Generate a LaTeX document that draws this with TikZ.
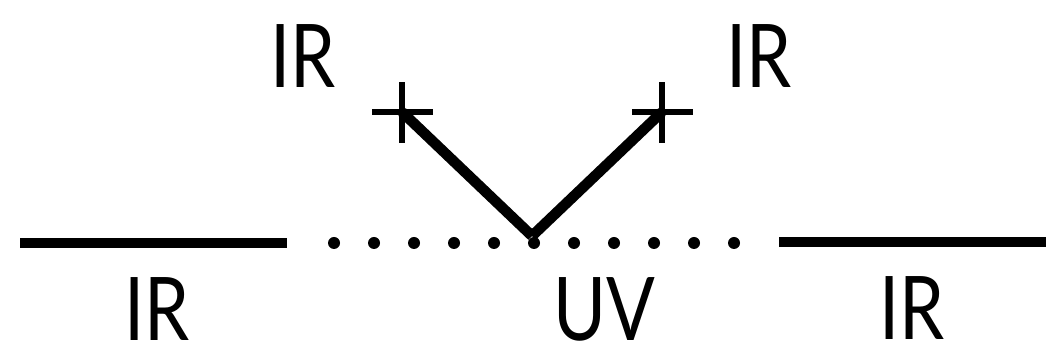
\documentclass[tikz,border=0pt]{standalone}
\usepackage{fontspec}
\setsansfont{Lato}[FakeStretch=0.82]
\begin{document}
\begin{tikzpicture}[
    lbl/.style={font=\sffamily\fontsize{25}{30}\selectfont, inner sep=0pt, anchor=base},
    thickline/.style={line width=3pt},
    crossline/.style={line width=1.5pt},
    dot/.style={circle, fill=black, inner sep=0pt, minimum size=0.12cm}
]
\useasboundingbox (0,0) rectangle (10.46,3.5);

% horizontal line: IR -- UV -- IR
\coordinate (l1) at (0.20,1.07);
\coordinate (l2) at (2.87,1.07);
\coordinate (r1) at (7.79,1.08);
\coordinate (r2) at (10.46,1.08);
\draw[thickline] (l1) -- (l2);
\draw[thickline] (r1) -- (r2);

% dotted middle part
\foreach \i in {0,...,10}
    \node[dot] (d\i) at (3.34+0.40*\i,1.07) {};

% V from the UV point
\coordinate (uv) at (5.32,1.14);
\coordinate (irl) at (4.02,2.38);
\coordinate (irr) at (6.62,2.38);
\draw[thickline] (uv) -- (irl);
\draw[thickline] (uv) -- (irr);

% crosses
\draw[crossline] ([xshift=-0.30cm]irl) -- ([xshift=0.31cm]irl);
\draw[crossline] ([yshift=-0.31cm]irl) -- ([yshift=0.30cm]irl);
\draw[crossline] ([xshift=-0.30cm]irr) -- ([xshift=0.31cm]irr);
\draw[crossline] ([yshift=-0.31cm]irr) -- ([yshift=0.30cm]irr);

% labels
\node[lbl] (tl) at (3.03,2.62) {IR};
\node[lbl] (tr) at (7.59,2.62) {IR};
\node[lbl] (bl) at (1.57,0.09) {IR};
\node[lbl] (bm) at (6.04,0.09) {UV};
\node[lbl] (br) at (9.12,0.10) {IR};

\end{tikzpicture}
\end{document}
